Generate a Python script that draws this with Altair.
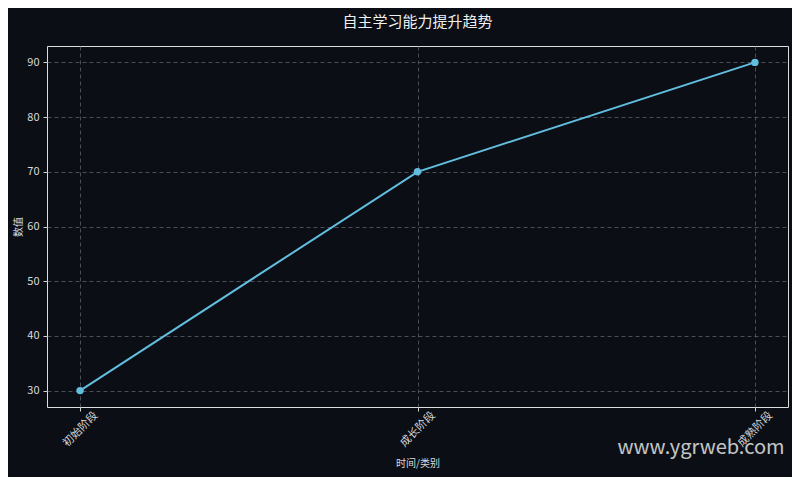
import altair as alt
import pandas as pd

categories = ["初始阶段", "成长阶段", "成熟阶段"]
values = [30, 70, 90]

df = pd.DataFrame({"stage": categories, "value": values})

FONT = "Noto Sans CJK SC"
BG = "#0b0e15"

x_enc = alt.X("stage:N", sort=categories,
              scale=alt.Scale(type="point", padding=0.098),
              axis=alt.Axis(title="时间/类别", labelAngle=-45, labelAlign="center",
                            labelBaseline="middle", grid=True, gridDash=[4, 3],
                            gridColor="#5a5f66", gridWidth=0.8, tickColor="#cfd2d6",
                            tickSize=4, domain=False, labelColor="#d8dadc",
                            labelFontSize=11, titleColor="#d8dadc", titleFontSize=10,
                            titleFontWeight="normal", titlePadding=10, labelPadding=18))
y_enc = alt.Y("value:Q", scale=alt.Scale(domain=[27, 93], nice=False, zero=False),
              axis=alt.Axis(title="数值", values=[30, 40, 50, 60, 70, 80, 90],
                            grid=True, gridDash=[4, 3], gridColor="#5a5f66",
                            gridWidth=0.8, tickColor="#cfd2d6", tickSize=4,
                            domain=False, labelColor="#d8dadc", labelFontSize=11,
                            titleColor="#d8dadc", titleFontSize=10,
                            titleFontWeight="normal", titlePadding=3, labelPadding=4))

line = alt.Chart(df).mark_line(color="#62bedf", strokeWidth=2).encode(x=x_enc, y=y_enc)
pts = alt.Chart(df).mark_point(color="#62bedf", filled=True, opacity=1, size=55).encode(
    x=x_enc, y=y_enc)

wm = alt.Chart(pd.DataFrame({"t": ["www.ygrweb.com"]})).mark_text(
    font=FONT, fontSize=20, color="#e6e6e6", opacity=0.85, align="center",
    baseline="middle").encode(text="t:N", x=alt.value(654), y=alt.value(402))

chart = alt.layer(line, pts, wm).properties(
    width=741, height=361,
    title=alt.TitleParams("自主学习能力提升趋势", font=FONT, fontSize=15,
                          color="#f0f0f0", fontWeight="normal", anchor="middle",
                          offset=16),
    background=BG,
    padding={"left": 39, "top": 38, "right": 4, "bottom": 70},
    autosize=alt.AutoSizeParams(type="none"),
).configure_view(
    stroke="#b5b8bc", strokeWidth=1.2, fill=BG
).configure(font=FONT)

chart.save("out.html", embed_options={"renderer": "svg", "actions": False})
